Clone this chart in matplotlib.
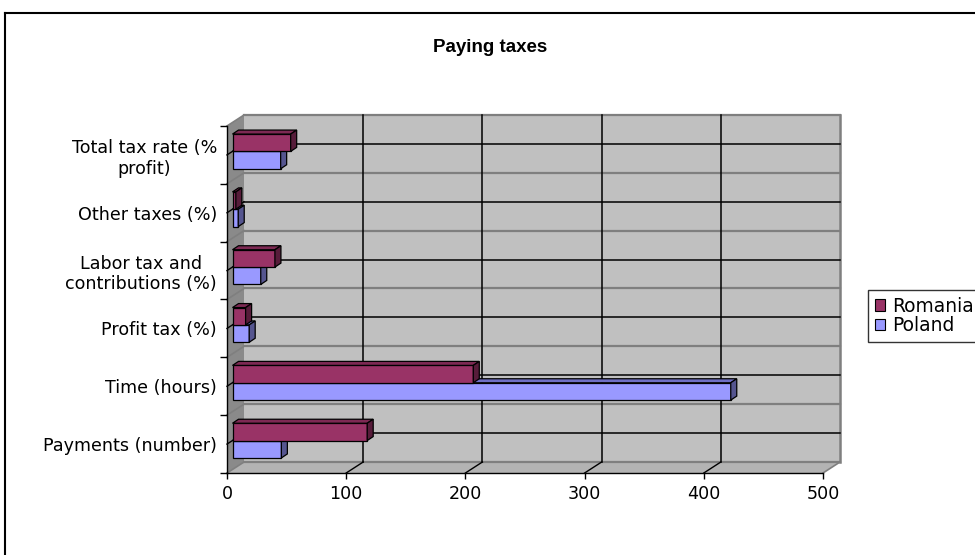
import matplotlib
matplotlib.use('Agg')
import matplotlib.pyplot as plt
from matplotlib.patches import Polygon, Rectangle
from matplotlib.transforms import IdentityTransform
from matplotlib.lines import Line2D

# ---- data ----
categories = ['Payments (number)', 'Time (hours)', 'Profit tax (%)',
              'Labor tax and\ncontributions (%)', 'Other taxes (%)',
              'Total tax rate (%\nprofit)']
romania = [113, 202, 11.0, 35.6, 2.8, 48.8]
poland = [41, 418, 14.0, 23.7, 4.8, 40.4]
series_names = ['Romania', 'Poland']
x_ticks = [0, 100, 200, 300, 400, 500]
title = 'Paying taxes'

# ---- style ----
W, H, DPI = 975, 555, 100
FONT = ['DejaVu Sans']
FS = 12.6
ROM_COLS = ('#993366', '#7d2953', '#571c3a')   # front, top, side
POL_COLS = ('#9999ff', '#6f6fc4', '#55558f')
WALL = '#c0c0c0'
SIDEWALL = '#8a8a8a'
FLOOR = '#b3b3b3'
EDGEGRAY = '#7f7f7f'
DEPTH = (17, 11)        # wall depth in px (display)
BAR_OFF = (5.5, 3.5)    # bar front plane offset
BAR_D = (6, 4)          # bar depth
BAR_H = 0.3

fig = plt.figure(figsize=(W / DPI, H / DPI), dpi=DPI)
ax = fig.add_axes([227 / W, (H - 473) / H, (823 - 227) / W, (473 - 126) / H])
n = len(categories)
xmin, xmax = x_ticks[0], x_ticks[-1]
ax.set_xlim(xmin, xmax)
ax.set_ylim(-0.5, n - 0.5)
ax.patch.set_visible(False)


def disp(x, y, off=(0, 0)):
    px, py = ax.transData.transform((x, y))
    return (px + off[0], py + off[1])


def poly(pts, z, **kw):
    p = Polygon(pts, closed=True, transform=IdentityTransform(), clip_on=False,
                zorder=z, **kw)
    ax.add_artist(p)


def line(p0, p1, z, **kw):
    l = Line2D([p0[0], p1[0]], [p0[1], p1[1]], transform=IdentityTransform(),
               clip_on=False, zorder=z, **kw)
    ax.add_artist(l)


ylo, yhi = -0.5, n - 0.5
# back wall
poly([disp(xmin, ylo, DEPTH), disp(xmax, ylo, DEPTH), disp(xmax, yhi, DEPTH),
      disp(xmin, yhi, DEPTH)], 0.1, facecolor=WALL, edgecolor='none')
# floor
poly([disp(xmin, ylo), disp(xmax, ylo), disp(xmax, ylo, DEPTH),
      disp(xmin, ylo, DEPTH)], 0.1, facecolor=FLOOR, edgecolor='none')
# side wall
poly([disp(xmin, ylo), disp(xmin, ylo, DEPTH), disp(xmin, yhi, DEPTH),
      disp(xmin, yhi)], 0.1, facecolor=SIDEWALL, edgecolor='none')

# horizontal lines on back wall and side wall
for i in range(n + 1):
    yb = i - 0.5
    line(disp(xmin, yb, DEPTH), disp(xmax, yb, DEPTH), 0.3, color=EDGEGRAY, lw=1.6)
    line(disp(xmin, yb), disp(xmin, yb, DEPTH), 0.3, color=EDGEGRAY, lw=1.2)
for i in range(n):
    line(disp(xmin, i, DEPTH), disp(xmax, i, DEPTH), 0.35, color='black', lw=1.1)
    line(disp(xmin, i), disp(xmin, i, DEPTH), 0.35, color='black', lw=1.0)
# vertical gridlines on back wall + floor
for v in x_ticks[1:-1]:
    line(disp(v, ylo, DEPTH), disp(v, yhi, DEPTH), 0.35, color='black', lw=1.1)
    line(disp(v, ylo), disp(v, ylo, DEPTH), 0.35, color='black', lw=1.0)
line(disp(xmax, ylo, DEPTH), disp(xmax, yhi, DEPTH), 0.3, color=EDGEGRAY, lw=1.8)
line(disp(xmax, ylo), disp(xmax, ylo, DEPTH), 0.3, color=EDGEGRAY, lw=1.2)


def bar3d(val, ycen, cols, z):
    y0, y1 = ycen - BAR_H / 2, ycen + BAR_H / 2
    fo = BAR_OFF
    bo = (BAR_OFF[0] + BAR_D[0], BAR_OFF[1] + BAR_D[1])
    kw = dict(edgecolor='black', linewidth=0.9, joinstyle='miter')
    poly([disp(0, y0, fo), disp(val, y0, fo), disp(val, y1, fo), disp(0, y1, fo)],
         z, facecolor=cols[0], **kw)
    poly([disp(0, y1, fo), disp(val, y1, fo), disp(val, y1, bo), disp(0, y1, bo)],
         z, facecolor=cols[1], **kw)
    poly([disp(val, y0, fo), disp(val, y0, bo), disp(val, y1, bo), disp(val, y1, fo)],
         z, facecolor=cols[2], **kw)


z = 1.0
for i in range(n):
    bar3d(poland[i], i - BAR_H / 2, POL_COLS, z); z += 0.01
    bar3d(romania[i], i + BAR_H / 2, ROM_COLS, z); z += 0.01

# axes / ticks
for s in ['top', 'right']:
    ax.spines[s].set_visible(False)
for s in ['left', 'bottom']:
    ax.spines[s].set_color('black')
    ax.spines[s].set_linewidth(1.0)
    ax.spines[s].set_zorder(5)
ax.set_xticks(x_ticks)
ax.set_xticklabels([str(t) for t in x_ticks], fontsize=FS, family=FONT)
ax.tick_params(axis='x', length=4.3, width=1.0, pad=4, color='black')
ax.set_yticks(range(n))
ax.set_yticklabels(categories, fontsize=FS, family=FONT)
ax.set_yticks([i - 0.5 for i in range(n + 1)], minor=True)
ax.tick_params(axis='y', which='major', length=0, pad=7.2)
ax.tick_params(axis='y', which='minor', length=5.0, width=1.0, color='black')
for lbl in ax.get_yticklabels():
    lbl.set_multialignment('center')

# title
fig.text(490 / W, 1 - 47 / H, title, ha='center', va='center',
         fontsize=13.5, fontweight='bold', family=['Liberation Sans', 'DejaVu Sans'])

# legend
handles = [Rectangle((0, 0), 1, 1, facecolor=ROM_COLS[0], edgecolor='black', lw=0.8),
           Rectangle((0, 0), 1, 1, facecolor=POL_COLS[0], edgecolor='black', lw=0.8)]
leg = fig.legend(handles, series_names, loc='upper left',
                 bbox_to_anchor=(868 / W, 1 - 290 / H), borderaxespad=0,
                 frameon=True, fancybox=False, edgecolor='black',
                 prop={'family': FONT, 'size': 13.4}, handlelength=0.55,
                 handleheight=0.55, handletextpad=0.4, labelspacing=0.05,
                 borderpad=0.35)
leg.get_frame().set_linewidth(1.0)

# outer chart frame (top and left visible)
fig.add_artist(Line2D([5 / W, 1.0], [1 - 13 / H, 1 - 13 / H], transform=fig.transFigure,
                      color='black', lw=1.5))
fig.add_artist(Line2D([5 / W, 5 / W], [1 - 13 / H, 0.0], transform=fig.transFigure,
                      color='black', lw=1.5))

fig.savefig('out.png', dpi=DPI)
